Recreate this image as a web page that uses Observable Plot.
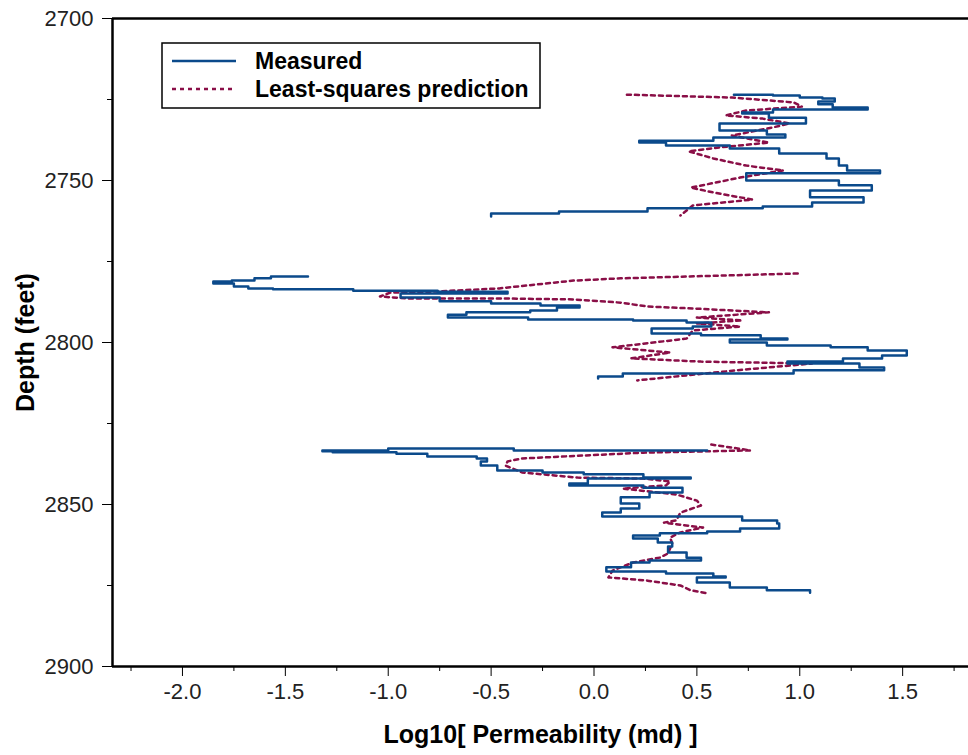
<!DOCTYPE html>
<html><head><meta charset="utf-8">
<script src="https://cdn.jsdelivr.net/npm/d3@7"></script>
<script src="https://cdn.jsdelivr.net/npm/@observablehq/plot@0.6"></script>
<style>body{margin:0;background:#fff;} svg{font-family:"Liberation Sans",Arial,sans-serif;}</style>
</head><body><div id="chart"></div>
<script>
// [depth (feet), log10 permeability (md)]
const measured1 = [[2723.5,0.68],[2723.8,0.87],[2724.4,1.0],[2724.7,1.11],[2725.6,1.17],[2726.5,1.09],[2727.5,1.16],[2728.1,1.33],[2729.0,0.87],[2729.3,0.72],[2730.6,0.85],[2732.4,1.03],[2734.6,0.61],[2735.8,0.84],[2736.7,0.93],[2737.7,0.58],[2738.3,0.22],[2739.2,0.35],[2740.1,0.66],[2741.7,0.90],[2743.2,1.13],[2745.4,1.19],[2746.9,1.23],[2747.8,1.39],[2750.0,0.74],[2751.5,1.19],[2753.1,1.35],[2755.2,1.05],[2756.8,1.31],[2758.0,1.06],[2758.6,0.82],[2759.6,0.26],[2760.2,-0.17],[2761.1,-0.50]];
const measured2 = [[2779.6,-1.39],[2780.2,-1.57],[2780.9,-1.65],[2781.2,-1.76],[2781.8,-1.85],[2782.7,-1.75],[2783.3,-1.68],[2783.6,-1.56],[2784.0,-1.17],[2784.3,-0.76],[2784.9,-0.42],[2786.1,-0.94],[2787.3,-0.75],[2788.0,-0.50],[2788.6,-0.26],[2789.2,-0.07],[2790.1,-0.18],[2790.7,-0.31],[2791.4,-0.62],[2792.3,-0.71],[2792.9,-0.32],[2793.2,0.19],[2793.8,0.45],[2795.1,0.57],[2795.7,0.48],[2797.2,0.28],[2797.8,0.52],[2798.8,0.81],[2799.1,0.94],[2800.0,0.66],[2800.9,0.84],[2801.5,1.15],[2802.5,1.33],[2804.0,1.52],[2804.9,1.40],[2805.9,1.21],[2806.5,0.94],[2807.7,1.29],[2808.6,1.41],[2809.6,0.97],[2810.5,0.14],[2811.1,0.02]];
const measured3 = [[2833.3,0.55],[2833.3,0.29],[2832.7,-0.39],[2833.3,-1.0],[2833.6,-1.32],[2833.9,-1.27],[2834.3,-0.96],[2835.2,-0.81],[2835.8,-0.57],[2836.7,-0.52],[2838.0,-0.55],[2839.5,-0.47],[2840.1,-0.25],[2840.7,-0.05],[2841.7,0.24],[2842.0,0.47],[2843.5,-0.03],[2844.1,-0.12],[2844.8,0.24],[2846.3,0.43],[2847.8,0.27],[2849.7,0.13],[2851.2,0.22],[2852.5,0.13],[2853.7,0.04],[2854.9,0.72],[2855.9,0.89],[2857.4,0.90],[2858.3,0.71],[2858.9,0.55],[2859.6,0.32],[2860.5,0.19],[2861.7,0.31],[2863.0,0.38],[2864.8,0.36],[2866.4,0.45],[2867.3,0.52],[2867.9,0.27],[2869.4,0.18],[2870.7,0.06],[2871.3,0.35],[2872.2,0.58],[2872.5,0.64],[2874.1,0.50],[2875.6,0.66],[2876.5,0.84],[2877.2,1.05]];
const predicted1 = [[2723.5,0.16],[2724.4,0.67],[2725.9,0.97],[2727.2,1.01],[2728.4,0.74],[2729.9,0.64],[2730.9,0.82],[2732.4,0.95],[2733.6,0.87],[2735.5,0.72],[2736.1,0.67],[2738.3,0.85],[2739.8,0.61],[2741.0,0.46],[2743.2,0.58],[2745.4,0.74],[2746.9,0.92],[2749.1,0.71],[2752.2,0.47],[2753.7,0.58],[2755.9,0.77],[2757.7,0.48],[2760.8,0.42]];
const predicted2 = [[2778.7,0.99],[2780.2,0.13],[2780.9,-0.10],[2783.3,-0.46],[2784.3,-0.78],[2784.6,-0.99],[2785.8,-1.04],[2786.4,-0.91],[2786.4,-0.46],[2786.7,-0.10],[2787.7,0.13],[2788.9,0.26],[2789.5,0.48],[2790.7,0.85],[2792.3,0.50],[2793.2,0.72],[2794.1,0.50],[2795.1,0.71],[2796.3,0.48],[2798.8,0.45],[2801.5,0.09],[2803.1,0.37],[2804.9,0.18],[2805.9,0.52],[2806.5,1.06],[2808.6,0.69],[2811.7,0.21]];
const predicted3 = [[2831.5,0.57],[2833.3,0.76],[2834.0,0.24],[2835.8,-0.35],[2836.7,-0.42],[2838.0,-0.43],[2840.1,-0.35],[2841.7,-0.08],[2842.0,0.24],[2842.9,0.37],[2844.1,0.35],[2845.1,0.14],[2846.9,0.40],[2848.8,0.50],[2850.3,0.52],[2852.5,0.42],[2854.9,0.40],[2855.6,0.34],[2857.1,0.53],[2858.6,0.42],[2860.2,0.37],[2862.0,0.38],[2865.1,0.36],[2866.4,0.32],[2867.9,0.19],[2870.4,0.09],[2872.5,0.07],[2873.5,0.26],[2875.0,0.42],[2876.5,0.47],[2877.5,0.56]];

const xMajorTicks = [-2.0,-1.5,-1.0,-0.5,0.0,0.5,1.0,1.5];
const xMinorTicks = [-2.25,-1.75,-1.25,-0.75,-0.25,0.25,0.75,1.25,1.75];
const yMajorTicks = [2700,2750,2800,2850,2900];
const yMinorTicks = [2725,2775,2825,2875];
const seriesNames = ["Measured","Least-squares prediction"];
const xTitle = "Log10[ Permeability (md) ]";
const yTitle = "Depth (feet)";

const blue = "#0b4a8b", maroon = "#8a0f47";
function rows(arr, seg) { return arr.map(([depth, perm]) => ({depth, perm, seg})); }
const measuredRows = [...rows(measured1,"m1"),...rows(measured2,"m2"),...rows(measured3,"m3")];
const predictedRows = [...rows(predicted1,"p1"),...rows(predicted2,"p2"),...rows(predicted3,"p3")];

const chart = Plot.plot({
  width: 968, height: 755,
  marginLeft: 112, marginRight: 0, marginTop: 18, marginBottom: 89,
  x: {domain: [-2.34, 1.82]},
  y: {domain: [2700, 2900], reverse: true},
  style: {fontFamily: '"Liberation Sans", Arial, sans-serif', fontSize: "22px", color: "#222", background: "#fff", overflow: "visible"},
  marks: [
    Plot.axisX({ticks: xMajorTicks, tickSize: 10, tickPadding: 7, fontSize: 22, tickFormat: d => d.toFixed(1), label: null, stroke: "#000"}),
    Plot.axisX({ticks: xMinorTicks, tickSize: 5, tickFormat: () => "", label: null, stroke: "#000"}),
    Plot.axisY({ticks: yMajorTicks, tickSize: 10, tickPadding: 9, fontSize: 22, tickFormat: d => String(d), label: null, stroke: "#000"}),
    Plot.axisY({ticks: yMinorTicks, tickSize: 5, tickFormat: () => "", label: null, stroke: "#000"}),
    Plot.line(predictedRows, {x: "perm", y: "depth", z: "seg", stroke: maroon, strokeWidth: 2.5, strokeDasharray: "4,4"}),
    Plot.line(measuredRows, {x: "perm", y: "depth", z: "seg", curve: "step-after", stroke: blue, strokeWidth: 2.5}),
    Plot.ruleX([-2.34], {stroke: "#000", strokeWidth: 2.5}),
    Plot.ruleY([2700, 2900], {stroke: "#000", strokeWidth: 2.5}),
    Plot.text([xTitle], {text: d => d, frameAnchor: "bottom", dy: 76, fontSize: 25, fontWeight: "bold", fill: "#000"}),
    Plot.text([yTitle], {text: d => d, frameAnchor: "left", textAnchor: "middle", dx: -87, rotate: -90, fontSize: 25, fontWeight: "bold", fill: "#000"})
  ]
});
document.getElementById("chart").appendChild(chart);

// legend
const svg = d3.select(chart);
const g = svg.append("g").attr("text-anchor", "start");
g.append("rect").attr("x", 162).attr("y", 43).attr("width", 378).attr("height", 65)
  .attr("fill", "#fff").attr("stroke", "#000").attr("stroke-width", 1.5);
seriesNames.forEach((name, i) => {
  const yy = 61 + i * 28;
  g.append("line").attr("x1", 172).attr("x2", 236).attr("y1", yy).attr("y2", yy)
    .attr("stroke", i === 0 ? blue : maroon).attr("stroke-width", 2.5)
    .attr("stroke-dasharray", i === 0 ? null : "4,4");
  g.append("text").attr("x", 255).attr("y", yy).attr("dy", "0.36em")
    .attr("text-anchor", "start")
    .attr("font-size", 23).attr("font-weight", "bold").attr("fill", "#000").text(name);
});
</script>
</body></html>
